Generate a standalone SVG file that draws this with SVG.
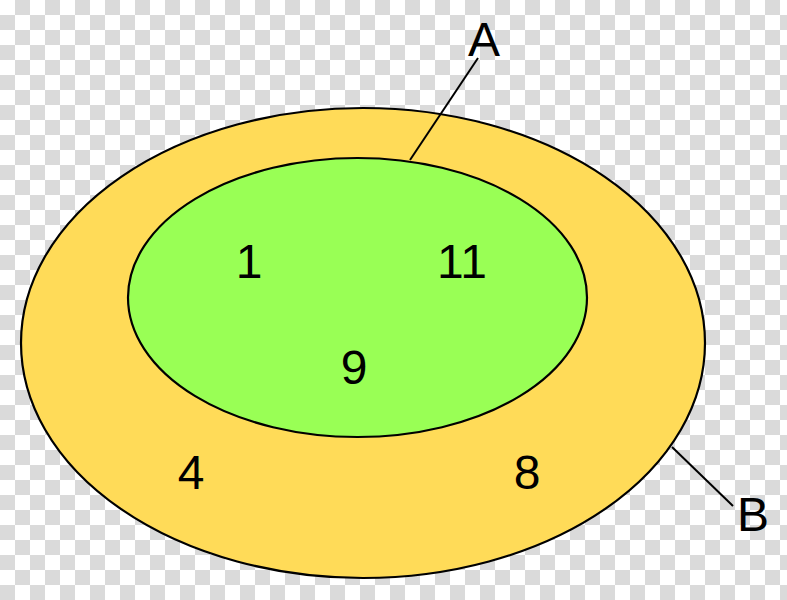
<svg xmlns="http://www.w3.org/2000/svg" width="787" height="600" viewBox="0 0 787 600">
<defs>
<pattern id="checker" width="30" height="30" patternUnits="userSpaceOnUse">
<rect width="30" height="30" fill="#ffffff"/>
<rect x="15" y="0" width="15" height="15" fill="#dadada"/>
<rect x="0" y="15" width="15" height="15" fill="#dadada"/>
</pattern>
<style>
.set{stroke:#000;stroke-width:2.2}
.lbl{font-family:"Liberation Sans",Arial,sans-serif;font-size:48px;fill:#000;text-anchor:middle}
.lead{stroke:#000;stroke-width:2;fill:none}
</style>
</defs>
<rect width="787" height="600" fill="url(#checker)"/>
<g id="setB">
<ellipse class="set" cx="363" cy="343" rx="342" ry="235" fill="#ffdb58"/>
<text class="lbl" x="191" y="489">4</text>
<text class="lbl" x="527" y="489">8</text>
</g>
<g id="setA">
<ellipse class="set" cx="357.5" cy="297.5" rx="229.5" ry="139.5" fill="#99ff55"/>
<text class="lbl" x="249" y="278">1</text>
<text class="lbl" x="462" y="278">11</text>
<text class="lbl" x="354" y="384">9</text>
</g>
<g id="connectors">
<line class="lead" x1="410" y1="160" x2="478" y2="58"/>
<line class="lead" x1="672" y1="447" x2="733" y2="506"/>
</g>
<g id="labelA"><text class="lbl" x="484" y="56">A</text></g>
<g id="labelB"><text class="lbl" x="753" y="531">B</text></g>
</svg>
